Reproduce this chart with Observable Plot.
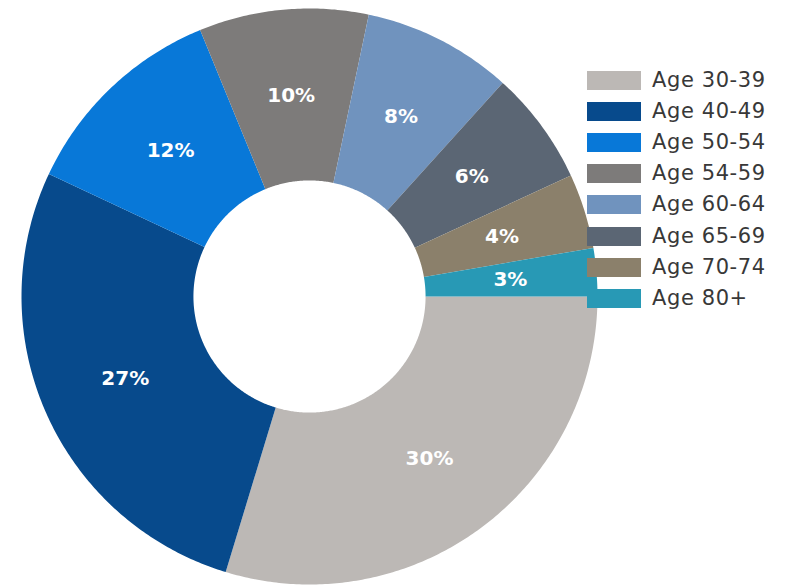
<!DOCTYPE html>
<html>
<head>
<meta charset="utf-8">
<script src="https://cdn.jsdelivr.net/npm/d3@7"></script>
<script src="https://cdn.jsdelivr.net/npm/@observablehq/plot@0.6"></script>
<style>
  html, body { margin: 0; padding: 0; background: #fff; }
  #wrap { position: relative; width: 794px; height: 585px; overflow: hidden; }
  #legend { position: absolute; left: 587px; top: 0; font-family: "DejaVu Sans", sans-serif; font-size: 21px; letter-spacing: 0.6px; color: #383838; }
  .row { position: absolute; left: 0; height: 19px; white-space: nowrap; }
  .sw { position: absolute; left: 0; top: 0; width: 54px; height: 19px; }
  .lb { position: absolute; left: 65px; top: -5px; line-height: 28px; }
</style>
</head>
<body>
<div id="wrap"><div id="chart"></div><div id="legend"></div></div>
<script>
const categories = ["Age 30-39", "Age 40-49", "Age 50-54", "Age 54-59", "Age 60-64", "Age 65-69", "Age 70-74", "Age 80+"];
const shares = [29.7, 27.3, 11.8, 9.5, 8.4, 6.4, 4.2, 2.7];
const labels = ["30%", "27%", "12%", "10%", "8%", "6%", "4%", "3%"];
const colors = ["#bcb8b5", "#074a8c", "#0878d8", "#7d7b7a", "#7093be", "#5b6674", "#8b806b", "#2899b5"];

const startDeg = 90;
const innerR = 0.403, outerR = 1, labelR = 0.70;
const total = d3.sum(shares);

const pts = [];
const lab = [];
let acc = 0;
categories.forEach((cat, i) => {
  const a0 = (startDeg + acc / total * 360) * Math.PI / 180;
  acc += shares[i];
  const a1 = (startDeg + acc / total * 360) * Math.PI / 180;
  const n = Math.max(8, Math.ceil((a1 - a0) / 0.01));
  for (let k = 0; k <= n; k++) {
    const a = a0 + (a1 - a0) * k / n;
    pts.push({cat, x: outerR * Math.sin(a), y: outerR * Math.cos(a)});
  }
  for (let k = n; k >= 0; k--) {
    const a = a0 + (a1 - a0) * k / n;
    pts.push({cat, x: innerR * Math.sin(a), y: innerR * Math.cos(a)});
  }
  const am = (a0 + a1) / 2;
  lab.push({cat, text: labels[i], x: labelR * Math.sin(am), y: labelR * Math.cos(am)});
});

const chart = Plot.plot({
  width: 794,
  height: 585,
  marginLeft: 21,
  marginRight: 197,
  marginTop: 8,
  marginBottom: 1,
  x: {domain: [-1, 1], axis: null},
  y: {domain: [-1, 1], axis: null},
  color: {domain: categories, range: colors},
  style: {background: "#fff"},
  marks: [
    Plot.line(pts, {x: "x", y: "y", z: "cat", fill: "cat", stroke: "none"}),
    Plot.text(lab, {x: "x", y: "y", text: "text", fill: "#fff", fontSize: 20, fontWeight: "bold", fontFamily: "DejaVu Sans, sans-serif"})
  ]
});
document.getElementById("chart").appendChild(chart);

const legend = document.getElementById("legend");
categories.forEach((cat, i) => {
  const row = document.createElement("div");
  row.className = "row";
  row.style.top = (71 + i * 31.1) + "px";
  const sw = document.createElement("div");
  sw.className = "sw";
  sw.style.background = colors[i];
  const lb = document.createElement("div");
  lb.className = "lb";
  lb.textContent = cat;
  row.appendChild(sw);
  row.appendChild(lb);
  legend.appendChild(row);
});
</script>
</body>
</html>
